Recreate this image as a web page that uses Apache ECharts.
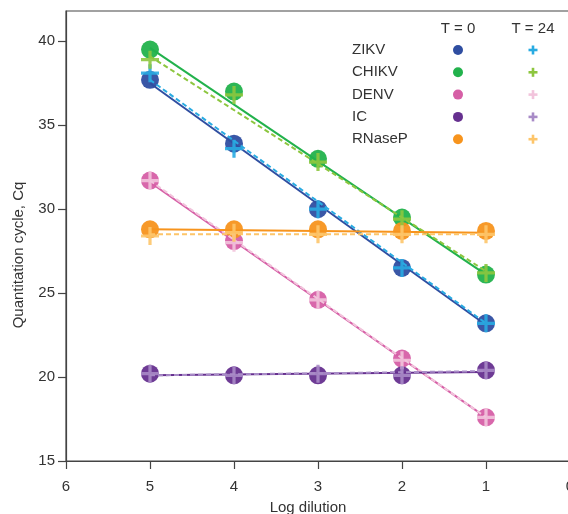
<!DOCTYPE html>
<html>
<head>
<meta charset="utf-8">
<script src="https://cdn.jsdelivr.net/npm/echarts@6/dist/echarts.min.js"></script>
<style>
    html, body {margin: 0; padding: 0; background: #fff;}
    #ChartMain {width: 568px; height: 514px;}
</style>
</head>
<body>
<div id="ChartMain"></div>
<script>
// 稀释梯度 (log)
var dilutions = [5, 4, 3, 2, 1];
var fitX = [5, 1];
var targets = ['ZIKV', 'CHIKV', 'DENV', 'IC', 'RNaseP'];

// T = 0 的 Cq 值
var zikv0 = [37.7, 33.9, 30.0, 26.5, 23.2];
var chikv0 = [39.5, 37.0, 33.0, 29.5, 26.1];
var denv0 = [31.7, 28.1, 24.6, 21.1, 17.6];
var ic0 = [20.2, 20.1, 20.1, 20.1, 20.4];
var rnasep0 = [28.8, 28.8, 28.8, 28.7, 28.7];

// T = 24 的 Cq 值
var zikv24 = [38.1, 33.6, 30.0, 26.5, 23.2];
var chikv24 = [38.9, 36.8, 32.8, 29.4, 26.2];
var denv24 = [31.7, 28.0, 24.6, 21.0, 17.6];
var ic24 = [20.2, 20.1, 20.2, 20.1, 20.4];
var rnasep24 = [28.4, 28.6, 28.5, 28.5, 28.5];

// 拟合直线两端 (x=5, x=1)
var zikvFit0 = [37.5, 23.1], zikvFit24 = [37.7, 23.2];
var chikvFit0 = [39.6, 26.1], chikvFit24 = [39.1, 26.3];
var denvFit0 = [31.6, 17.6], denvFit24 = [31.7, 17.6];
var icFit0 = [20.1, 20.3], icFit24 = [20.1, 20.35];
var rnasepFit0 = [28.8, 28.6], rnasepFit24 = [28.5, 28.5];

var xTicks = [6, 5, 4, 3, 2, 1, 0];
var yTicks = [15, 20, 25, 30, 35, 40];

var colors0 = ['#2f4ea1', '#22b24c', '#d65fa6', '#66308f', '#f7941d'];
var colors24 = ['#29abe2', '#8dc63f', '#f2c4dc', '#a88bc7', '#fdc56a'];

var vals0 = [zikv0, chikv0, denv0, ic0, rnasep0];
var vals24 = [zikv24, chikv24, denv24, ic24, rnasep24];
var fits0 = [zikvFit0, chikvFit0, denvFit0, icFit0, rnasepFit0];
var fits24 = [zikvFit24, chikvFit24, denvFit24, icFit24, rnasepFit24];

var plusPath = 'path://M4.1,0H5.9V4.1H10V5.9H5.9V10H4.1V5.9H0V4.1H4.1Z';
var font = '"Liberation Sans", Arial, sans-serif';

function pairs(xs, ys) {
    return xs.map(function (x, i) { return [x, ys[i]]; });
}

GenerateChart();

function GenerateChart() {
    var chart = echarts.init(document.getElementById('ChartMain'));
    var series = [];
    targets.forEach(function (name, i) {
        series.push({
            type: 'scatter', name: name + ' T0', symbol: 'circle', symbolSize: 18,
            data: pairs(dilutions, vals0[i]), itemStyle: {color: colors0[i], opacity: 0.95}, z: 2
        });
    });
    targets.forEach(function (name, i) {
        series.push({
            type: 'line', name: name + ' fit T0', data: pairs(fitX, fits0[i]), symbol: 'none',
            lineStyle: {color: colors0[i], width: 2}, z: 3
        });
        series.push({
            type: 'line', name: name + ' fit T24', data: pairs(fitX, fits24[i]), symbol: 'none',
            lineStyle: {color: colors24[i], width: 2, type: [5, 3]}, z: 3
        });
    });
    targets.forEach(function (name, i) {
        series.push({
            type: 'scatter', name: name + ' T24', symbol: plusPath, symbolSize: 18,
            data: pairs(dilutions, vals24[i]), itemStyle: {color: colors24[i], opacity: 0.9}, z: 4
        });
    });

    // 图例表格 + y轴标题
    var graphics = [
        {type: 'text', x: 458, y: 29, style: {text: 'T = 0', font: '15px ' + font, fill: '#333', align: 'center', verticalAlign: 'middle'}},
        {type: 'text', x: 533, y: 29, style: {text: 'T = 24', font: '15px ' + font, fill: '#333', align: 'center', verticalAlign: 'middle'}},
        {type: 'text', x: 19, y: 255, rotation: Math.PI / 2, style: {text: 'Quantitation cycle, Cq', font: '15px ' + font, fill: '#333', align: 'center', verticalAlign: 'middle'}}
    ];
    targets.forEach(function (name, i) {
        var y = 50 + i * 22.3;
        graphics.push({type: 'text', x: 352, y: y, style: {text: name, font: '15px ' + font, fill: '#333', verticalAlign: 'middle'}});
        graphics.push({type: 'circle', shape: {cx: 458, cy: y, r: 5}, style: {fill: colors0[i]}});
        graphics.push({type: 'rect', shape: {x: 528.5, y: y - 1.3, width: 9, height: 2.6}, style: {fill: colors24[i]}});
        graphics.push({type: 'rect', shape: {x: 531.7, y: y - 4.5, width: 2.6, height: 9}, style: {fill: colors24[i]}});
    });

    var option = {
        animation: false,
        backgroundColor: '#fff',
        grid: {left: 66, right: -2, top: 11, bottom: 53, outerBoundsMode: 'none', containLabel: false,
            show: true, borderColor: '#444', borderWidth: 1.2},
        xAxis: {
            type: 'value', min: 0, max: 6, interval: 1, inverse: true,
            name: 'Log dilution', nameLocation: 'middle', nameGap: 39,
            nameTextStyle: {fontFamily: font, fontSize: 15, color: '#333', padding: [0, 20, 0, 0]},
            axisLine: {show: true, onZero: false, lineStyle: {color: '#444', width: 1.2}},
            axisTick: {show: true, length: 8, customValues: xTicks, lineStyle: {color: '#444', width: 1.2}},
            axisLabel: {fontFamily: font, fontSize: 15, color: '#333', margin: 18, customValues: xTicks},
            splitLine: {show: false}
        },
        yAxis: {
            type: 'value', min: 15, max: 41.8, interval: 5,
            axisLine: {show: true, onZero: false, lineStyle: {color: '#444', width: 1.2}},
            axisTick: {show: true, length: 8, customValues: yTicks, lineStyle: {color: '#444', width: 1.2}},
            axisLabel: {fontFamily: font, fontSize: 15, color: '#333', margin: 11, customValues: yTicks},
            splitLine: {show: false}
        },
        graphic: graphics,
        series: series
    };
    chart.setOption(option);
}
</script>
</body>
</html>
